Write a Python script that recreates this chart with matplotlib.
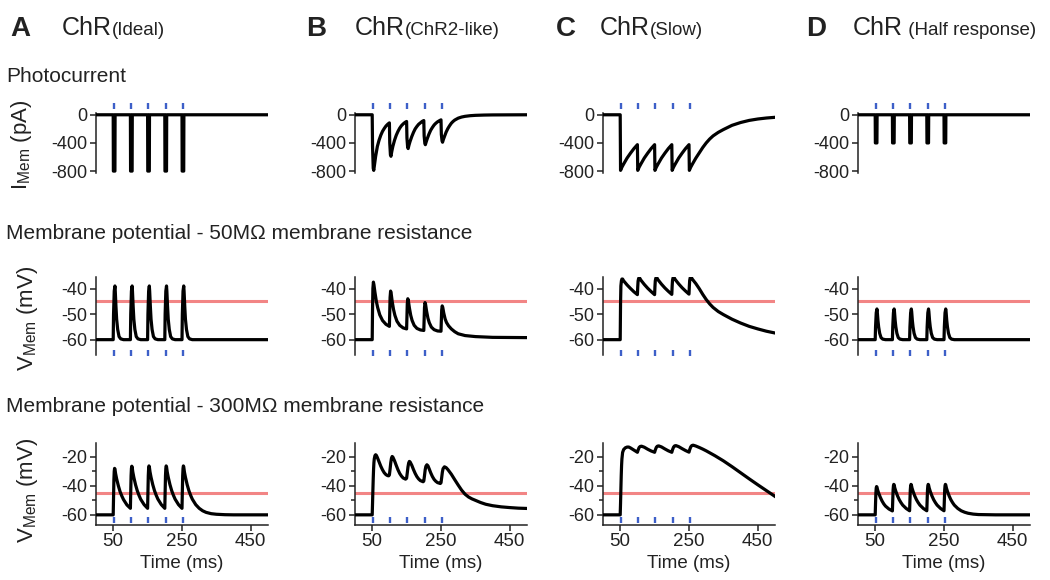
import matplotlib
matplotlib.use("Agg")
import matplotlib.pyplot as plt

plt.rcParams["font.family"] = ["Liberation Sans", "DejaVu Sans"]
plt.rcParams["mathtext.fontset"] = "custom"
plt.rcParams["mathtext.rm"] = "Liberation Sans"
plt.rcParams["mathtext.it"] = "Liberation Sans:italic"

# ---- data (time in ms) ----
panel_letters = ["A", "B", "C", "D"]
panel_suffix = ["(Ideal)", "(ChR2-like)", "(Slow)", " (Half response)"]
row_titles = ["Photocurrent",
              "Membrane potential - 50M\u03a9 membrane resistance",
              "Membrane potential - 300M\u03a9 membrane resistance"]
pulse_onsets = [50, 100, 150, 200, 250]
threshold_mv = -45

# photocurrent (pA)
photo_ideal = [(0, 0), (50, 0), (50.5, -800), (55, -800), (55.5, 0),
               (100, 0), (100.5, -800), (105, -800), (105.5, 0),
               (150, 0), (150.5, -800), (155, -800), (155.5, 0),
               (200, 0), (200.5, -800), (205, -800), (205.5, 0),
               (250, 0), (250.5, -800), (255, -800), (255.5, 0), (500, 0)]
photo_chr2 = [(0, 0), (50, 0), (51, -450), (53, -760), (54.5, -790), (57, -700), (60, -590), (65, -450),
              (70, -360), (75, -290), (80, -235), (85, -195), (90, -160), (95, -135), (100, -115),
              (101, -400), (103, -570), (104.5, -590), (107, -520), (110, -450), (115, -360), (120, -290),
              (125, -235), (130, -190), (135, -155), (140, -130), (145, -110), (150, -95),
              (151, -330), (153, -460), (154.5, -480), (157, -430), (160, -380), (165, -310), (170, -250),
              (175, -200), (180, -165), (185, -135), (190, -115), (195, -95), (200, -82),
              (201, -300), (203, -405), (204.5, -425), (207, -385), (210, -340), (215, -275), (220, -220),
              (225, -180), (230, -145), (235, -120), (240, -100), (245, -85), (250, -72),
              (251, -280), (253, -370), (254.5, -390), (257, -350), (260, -310), (265, -245), (270, -195),
              (275, -155), (280, -120), (285, -95), (290, -75), (300, -48), (310, -32), (320, -22),
              (335, -13), (350, -8), (375, -4), (400, -2), (450, -1), (500, 0)]
photo_slow = [(0, 0), (50, 0), (51, -790), (55, -745), (60, -700), (70, -615), (80, -545), (90, -480),
              (100, -425), (101, -790), (105, -745), (110, -700), (120, -615), (130, -545), (140, -480),
              (150, -425), (151, -790), (155, -745), (160, -700), (170, -615), (180, -545), (190, -480),
              (200, -425), (201, -790), (205, -745), (210, -700), (220, -615), (230, -545), (240, -480),
              (250, -425), (251, -790), (255, -745), (260, -700), (270, -615), (280, -540), (290, -465),
              (300, -400), (310, -345), (320, -300), (335, -250), (350, -210), (375, -150), (400, -110),
              (425, -80), (450, -60), (475, -46), (500, -36)]
photo_half = [(0, 0), (50, 0), (50.5, -400), (55, -400), (55.5, 0),
              (100, 0), (100.5, -400), (105, -400), (105.5, 0),
              (150, 0), (150.5, -400), (155, -400), (155.5, 0),
              (200, 0), (200.5, -400), (205, -400), (205.5, 0),
              (250, 0), (250.5, -400), (255, -400), (255.5, 0), (500, 0)]

# membrane potential, 50 MOhm (mV)
v50_ideal = [(0, -60),
             (50, -60), (51, -50), (53, -41), (55, -39), (56, -41), (58, -47), (60, -52), (63, -56), (67, -58.8), (72, -59.7), (80, -60),
             (100, -60), (101, -50), (103, -41), (105, -39), (106, -41), (108, -47), (110, -52), (113, -56), (117, -58.8), (122, -59.7), (130, -60),
             (150, -60), (151, -50), (153, -41), (155, -39), (156, -41), (158, -47), (160, -52), (163, -56), (167, -58.8), (172, -59.7), (180, -60),
             (200, -60), (201, -50), (203, -41), (205, -39), (206, -41), (208, -47), (210, -52), (213, -56), (217, -58.8), (222, -59.7), (230, -60),
             (250, -60), (251, -50), (253, -41), (255, -39), (256, -41), (258, -47), (260, -52), (263, -56), (267, -58.8), (272, -59.7), (280, -60),
             (500, -60)]
v50_chr2 = [(0, -60), (50, -60), (51, -48), (52, -40), (53.5, -37.5), (55, -38.5), (58, -41.5), (62, -45), (66, -47.5),
            (72, -50.3), (80, -52.5), (90, -54), (100, -54.8),
            (101, -49), (102, -43.5), (103.5, -41), (105, -41.8), (108, -45), (112, -48.2), (116, -50.5), (122, -52.8),
            (130, -54.4), (140, -55.4), (150, -55.8),
            (151, -51), (152, -46), (153.5, -44), (155, -44.7), (158, -47.5), (162, -50.5), (166, -52.5), (172, -54.4),
            (180, -55.6), (190, -56.2), (200, -56.4),
            (201, -52), (202, -47.5), (203.5, -45.5), (205, -46.1), (208, -48.8), (212, -51.6), (216, -53.4), (222, -55.1),
            (230, -56.1), (240, -56.6), (250, -56.7),
            (251, -52.5), (252, -48.5), (253.5, -46.8), (255, -47.3), (258, -49.6), (262, -51.9), (266, -53.3), (272, -54.6),
            (280, -55.8), (290, -56.9), (300, -57.7), (320, -58.4), (350, -58.8), (400, -59.1), (500, -59.2)]
v50_slow = [(0, -60), (50, -60), (51, -46), (52, -39), (53.5, -37), (55, -36.3), (57, -36.3), (60, -37), (70, -38.6),
            (80, -40), (90, -41.3), (100, -42.4),
            (101, -39.3), (102, -37.1), (103.5, -36.1), (105, -35.8), (107, -36), (110, -36.7), (120, -38.4), (130, -39.9),
            (140, -41.2), (150, -42.4),
            (151, -39.3), (152, -37), (153.5, -36), (155, -35.7), (157, -35.9), (160, -36.6), (170, -38.3), (180, -39.8),
            (190, -41.1), (200, -42.3),
            (201, -39.2), (202, -36.9), (203.5, -35.9), (205, -35.6), (207, -35.8), (210, -36.5), (220, -38.2), (230, -39.7),
            (240, -41), (250, -42.2),
            (251, -39.1), (252, -36.8), (253.5, -35.8), (255, -35.5), (257, -35.7), (260, -36.4), (270, -38.1), (280, -40.1),
            (290, -42.3), (300, -44.3), (310, -46), (320, -47.4), (335, -49), (350, -50.2), (375, -52), (400, -53.5),
            (425, -54.8), (450, -55.8), (475, -56.7), (500, -57.4)]
v50_half = [(0, -60),
            (50, -60), (51, -55), (53, -49.5), (55, -48), (56, -49), (58, -52.5), (60, -55), (63, -57.5), (67, -59.2), (72, -59.8), (80, -60),
            (100, -60), (101, -55), (103, -49.5), (105, -48), (106, -49), (108, -52.5), (110, -55), (113, -57.5), (117, -59.2), (122, -59.8), (130, -60),
            (150, -60), (151, -55), (153, -49.5), (155, -48), (156, -49), (158, -52.5), (160, -55), (163, -57.5), (167, -59.2), (172, -59.8), (180, -60),
            (200, -60), (201, -55), (203, -49.5), (205, -48), (206, -49), (208, -52.5), (210, -55), (213, -57.5), (217, -59.2), (222, -59.8), (230, -60),
            (250, -60), (251, -55), (253, -49.5), (255, -48), (256, -49), (258, -52.5), (260, -55), (263, -57.5), (267, -59.2), (272, -59.8), (280, -60),
            (500, -60)]

# membrane potential, 300 MOhm (mV)
v300_ideal = [(0, -60),
              (50, -60), (51, -48), (52, -36), (53, -30), (54, -28), (55, -28.4), (57, -31.6), (60, -35.2), (65, -40),
              (70, -44), (75, -47), (80, -49.5), (90, -53.2),
              (100, -55.5), (101, -44), (102, -33), (103, -28), (104, -26.5), (105, -27), (107, -30.5), (110, -34.2),
              (115, -39.3), (120, -43.4), (125, -46.6), (130, -49.3), (140, -53),
              (150, -55.5), (151, -44), (152, -33), (153, -28), (154, -26.3), (155, -26.8), (157, -30.4), (160, -34.1),
              (165, -39.2), (170, -43.3), (175, -46.5), (180, -49.2), (190, -53),
              (200, -55.5), (201, -44), (202, -33), (203, -28), (204, -26.3), (205, -26.8), (207, -30.4), (210, -34.1),
              (215, -39.2), (220, -43.3), (225, -46.5), (230, -49.2), (240, -53),
              (250, -55.5), (251, -44), (252, -33), (253, -28), (254, -26.3), (255, -26.8), (257, -30.4), (260, -34.1),
              (265, -39.2), (270, -43.3), (275, -46.5), (280, -49.2), (290, -53),
              (300, -55.5), (310, -57.2), (320, -58.3), (335, -59.2), (350, -59.6), (375, -59.9), (400, -60), (500, -60)]
v300_chr2 = [(0, -60), (50, -60), (51, -52), (52, -43), (53, -35), (54, -28.5), (55, -24), (56, -21.5), (58, -19.2),
             (60, -18.6), (62, -19), (65, -20.5), (70, -23.5), (75, -26.5), (80, -29), (85, -31), (90, -32.3), (95, -33),
             (98, -33.1),
             (100, -32.5), (102, -28.5), (104, -24), (106, -21), (108, -19.8), (110, -20.2), (115, -22.8), (120, -26),
             (125, -29), (130, -31.5), (135, -33.3), (140, -34.6), (147, -35.4),
             (150, -34.8), (152, -31), (154, -27), (156, -24.3), (158, -23.2), (160, -23.5), (165, -25.8), (170, -28.8),
             (175, -31.5), (180, -33.7), (185, -35.3), (190, -36.4), (198, -37.2),
             (200, -36.7), (202, -33), (204, -29), (206, -26.6), (209, -25.5), (212, -26.2), (216, -28.5), (220, -31),
             (225, -33.6), (230, -35.6), (235, -36.9), (240, -37.8), (248, -38.4),
             (250, -37.9), (252, -34.3), (254, -30.5), (256, -28.2), (260, -26.9), (265, -27.5), (270, -28.8), (280, -32),
             (290, -35.8), (300, -39.5), (310, -43), (320, -45.8), (330, -47.7), (340, -49), (350, -50), (365, -51.5),
             (380, -52.7), (400, -53.7), (425, -54.5), (450, -55), (475, -55.4), (500, -55.6)]
v300_slow = [(0, -60), (50, -60), (51, -52), (52, -42), (53, -33), (54, -26), (55, -21.5), (57, -17), (60, -15),
             (65, -13.8), (70, -13.3), (75, -13.3), (80, -13.9), (90, -15.4), (100, -16.9),
             (102, -15.4), (105, -13.6), (108, -12.9), (112, -12.7), (120, -13.4), (130, -14.8), (140, -16), (150, -16.9),
             (152, -15.3), (155, -13.5), (158, -12.7), (162, -12.5), (170, -13.2), (180, -14.6), (190, -15.9), (200, -16.9),
             (202, -15.2), (205, -13.4), (208, -12.5), (212, -12.3), (220, -13), (230, -14.4), (240, -15.7), (250, -16.8),
             (252, -15.1), (255, -13.2), (258, -12.3), (262, -12), (270, -12.6), (280, -13.6), (290, -14.7), (300, -15.9),
             (325, -19.2), (350, -22.8), (375, -26.8), (400, -31), (425, -35.2), (450, -39.3), (475, -43.3), (500, -47.3)]
v300_half = [(0, -60),
             (50, -60), (51, -52), (52, -45), (53, -41.5), (54, -40.5), (55, -40.8), (57, -42.8), (60, -45), (65, -48),
             (70, -50.5), (75, -52.5), (80, -54), (90, -56),
             (100, -57.3), (101, -50), (102, -43), (103, -40), (104, -39), (105, -39.3), (107, -41.5), (110, -43.8),
             (115, -47), (120, -49.6), (125, -51.6), (130, -53.3), (140, -55.6),
             (150, -57.2), (151, -50), (152, -43), (153, -40), (154, -39), (155, -39.3), (157, -41.5), (160, -43.8),
             (165, -47), (170, -49.6), (175, -51.6), (180, -53.3), (190, -55.6),
             (200, -57.2), (201, -50), (202, -43), (203, -40), (204, -39), (205, -39.3), (207, -41.5), (210, -43.8),
             (215, -47), (220, -49.6), (225, -51.6), (230, -53.3), (240, -55.6),
             (250, -57.2), (251, -50), (252, -43), (253, -40), (254, -39), (255, -39.3), (257, -41.5), (260, -43.8),
             (265, -47), (270, -49.6), (275, -51.6), (280, -53.3), (290, -55.6),
             (300, -57.2), (310, -58.2), (320, -58.9), (335, -59.5), (350, -59.8), (400, -60), (500, -60)]

traces = [[photo_ideal, photo_chr2, photo_slow, photo_half],
          [v50_ideal, v50_chr2, v50_slow, v50_half],
          [v300_ideal, v300_chr2, v300_slow, v300_half]]

# ---- layout (pixels) ----
W, H = 1050, 580
fig = plt.figure(figsize=(W / 100, H / 100), dpi=100)

col_left = [96, 355, 603, 858]
col_width = 172
row_box = [(100, 76), (277, 78), (443, 82)]        # top, height
row_ylim = [(-870, 210), (-66, -35.5), (-67, -10.5)]
row_yticks = [[0, -400, -800], [-40, -50, -60], [-20, -40, -60]]
row_stim_y = [125, -65.3, -63.3]
row_ylabel = [r"$\mathregular{I_{Mem}}$ (pA)", r"$\mathregular{V_{Mem}}$ (mV)", r"$\mathregular{V_{Mem}}$ (mV)"]
row_ylabel_xy = [(22, 145), (28, 318), (28, 490)]
row_title_y = [82, 239, 412]

text_col = "#222222"
stim_col = "#3d5fc8"
thr_col = "#f28585"


def px_axes(left, top, width, height):
    return fig.add_axes([left / W, 1 - (top + height) / H, width / W, height / H])


for r in range(3):
    top, hgt = row_box[r]
    for c in range(4):
        ax = px_axes(col_left[c], top, col_width, hgt)
        t, v = zip(*traces[r][c])
        ax.plot(t, v, color="black", lw=2.3, solid_joinstyle="round", zorder=3)
        if r > 0:
            ax.axhline(threshold_mv, color=thr_col, lw=2.2, zorder=2)
        ax.plot([p + 2.5 for p in pulse_onsets], [row_stim_y[r]] * len(pulse_onsets),
                ls="none", marker="|", ms=5, mew=1.7, color=stim_col, clip_on=False, zorder=4)

        ax.set_xlim(0, 500)
        ax.set_ylim(*row_ylim[r])
        ax.set_yticks(row_yticks[r])
        ax.set_yticklabels([str(y) for y in row_yticks[r]])
        for s in ["top", "right"]:
            ax.spines[s].set_visible(False)
        ax.spines["left"].set_linewidth(1.1)
        ax.spines["left"].set_color(text_col)
        ax.tick_params(axis="y", direction="out", length=4, width=1.1, pad=2,
                       labelsize=13, colors=text_col)
        if r == 0:
            ax.spines["left"].set_bounds(-830, 25)
        if r == 2:
            ax.set_yticks([-50, -30], minor=True)
            ax.tick_params(axis="y", which="minor", direction="out", length=3, width=1.1, colors=text_col)
            ax.set_xticks([50, 250, 450])
            ax.spines["bottom"].set_linewidth(1.1)
            ax.spines["bottom"].set_color(text_col)
            ax.tick_params(axis="x", direction="out", length=4, width=1.1, pad=2,
                           labelsize=13.5, colors=text_col)
            ax.set_xlabel("Time (ms)", fontsize=13.5, color=text_col, labelpad=3)
        else:
            ax.spines["bottom"].set_visible(False)
            ax.set_xticks([])

    fig.text(6 / W, 1 - row_title_y[r] / H, row_titles[r], fontsize=15,
             color=text_col, ha="left", va="baseline")
    lx, ly = row_ylabel_xy[r]
    fig.text(lx / W, 1 - ly / H, row_ylabel[r], fontsize=16, rotation=90,
             color=text_col, ha="center", va="center")

# panel letters and titles: "ChR" large, the variant name smaller on the same baseline
letter_x = [10, 306, 556, 806]
title_x = [62, 355, 600, 853]
title_base = 1 - 35 / H
heads = []
for c in range(4):
    fig.text(letter_x[c] / W, 1 - 36 / H, panel_letters[c], fontsize=20,
             fontweight="bold", color=text_col, ha="left", va="baseline")
    heads.append(fig.text(title_x[c] / W, title_base, "ChR", fontsize=18,
                          color=text_col, ha="left", va="baseline"))

fig.canvas.draw()
renderer = fig.canvas.get_renderer()
for c, head in enumerate(heads):
    x_end = head.get_window_extent(renderer).x1 / W
    fig.text(x_end, title_base, panel_suffix[c], fontsize=13.5,
             color=text_col, ha="left", va="baseline")

fig.savefig("out.png", dpi=100)
